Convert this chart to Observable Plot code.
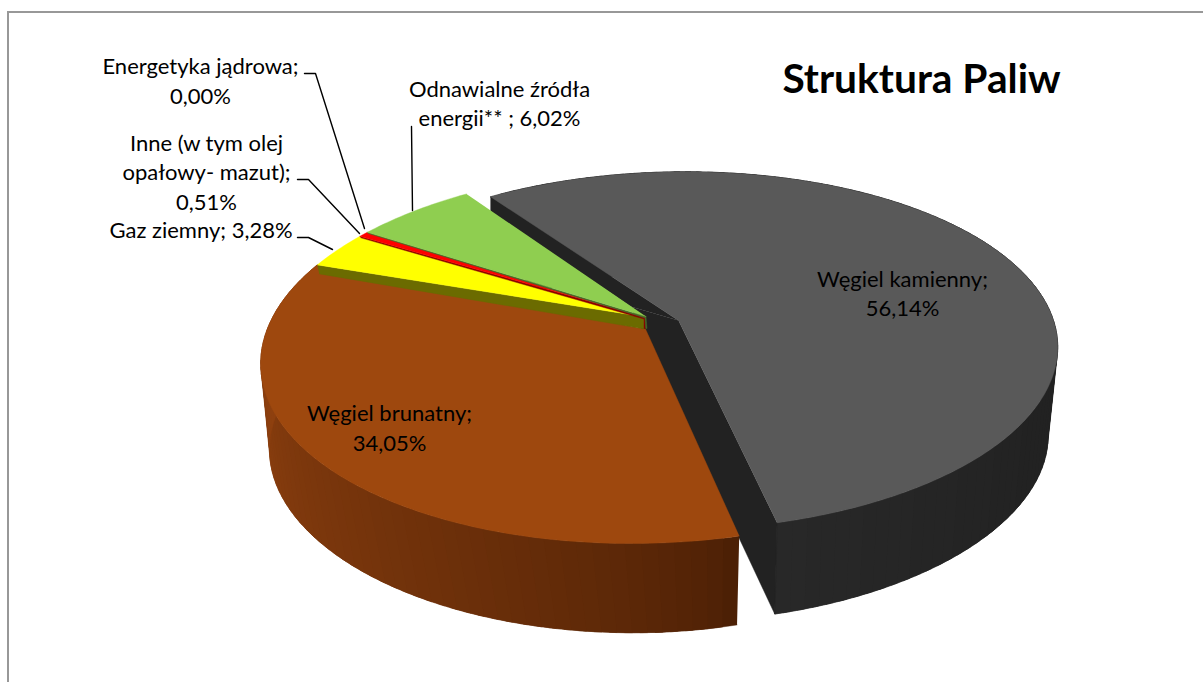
<!DOCTYPE html>
<html><head><meta charset="utf-8">
<script src="https://cdn.jsdelivr.net/npm/d3@7"></script>
<script src="https://cdn.jsdelivr.net/npm/@observablehq/plot@0.6"></script>
<style>html,body{margin:0;padding:0;background:#fff}svg{display:block}</style>
</head><body><div id="chart"></div>
<script>
const categories = ["Węgiel kamienny","Węgiel brunatny","Gaz ziemny","Inne (w tym olej opałowy- mazut)","Energetyka jądrowa","Odnawialne źródła energii**"];
const values = [56.14,34.05,3.28,0.51,0.00,6.02];
const topColors = ["#595959","#9e480e","#ffff00","#ff0000","#ff0000","#8fce50"];
const labelTexts = ["Węgiel kamienny;\n56,14%","Węgiel brunatny;\n34,05%","Gaz ziemny; 3,28%","Inne (w tym olej\nopałowy- mazut);\n0,51%","Energetyka jądrowa;\n0,00%","Odnawialne źródła\nenergii** ; 6,02%"];
const labelX = [902,389,200.5,206,200,499];
const labelY = [291.5,426,228,170.5,79,101.5];
const leaderGroups = [[304,315,364],[297,308,359],[297,308,332],[411,412]];
const leaderYs = [[73,73,228],[179,179,233],[237,237,249],[126,210]];
const titleText = "Struktura Paliw";
const firstAngle = 324;

// projections of the pie's disks onto the page
const topDisk = {cx:645,cy:318,a:378,s:16,b:180,p:0.2,q:-0.012};
const grayTop = {cx:678,cy:320,a:375,s:8,b:174,p:0.17,q:0};
const grayBottom = {cx:694,cy:410,a:350,s:20,b:169,p:0.2,q:0};
const brownBottom = {cx:625,cy:416,a:350,s:-6,b:173,p:0.2,q:0};
const grayBottomApex = [630,306];

const rad = d => d*Math.PI/180;
function proj(deg,m){const t=rad(deg),w=1+m.p*Math.cos(t)+m.q*Math.sin(t);
  return [m.cx+(m.a*Math.sin(t)+m.s*Math.cos(t))/w, m.cy-m.b*Math.cos(t)/w];}
function arc(d0,d1,m){const n=Math.max(1,Math.ceil(Math.abs(d1-d0)));
  return d3.range(n+1).map(i=>proj(d0+(d1-d0)*i/n,m));}

const total = d3.sum(values);
let acc = firstAngle;
const slices = values.map(v=>{const s=acc,e=acc+v/total*360;acc=e;return {s,e};});

const rows=[]; let id=0;
const poly=(pts,fill)=>{id++;pts.forEach(p=>rows.push({x:p[0],y:p[1],id,fill}));};

const [gray,brown,gas,other,,oze]=slices;
// gray: outer wall (facets overlap so no seams show), inner walls, top
const grayWall=d3.interpolateRgb("#222222","#282828");
for(let d=gray.s;d<gray.e;d+=2){const e=Math.min(d+5,gray.e);
  poly([...arc(d,e,grayTop),...arc(e,d,grayBottom)],
       d>gray.e-50?grayWall((d-gray.e+50)/50):"#222222");}
const gApex=[grayTop.cx,grayTop.cy];
poly([proj(gray.s,grayTop),gApex,grayBottomApex,[proj(gray.s,grayTop)[0],proj(gray.s,grayTop)[1]+15]],"#222222");
poly([gApex,proj(gray.e,grayTop),proj(gray.e,grayBottom),grayBottomApex],"#222222");
poly([gApex,...arc(gray.s,gray.e,grayTop)],topColors[0]);
// brown: wall then top, painted from the front edge round to the left
const brownWall=d3.interpolateRgb("#4c2005","#8e400f");
for(let d=brown.s;d<brown.e;d+=2){const e=Math.min(d+5,brown.e);
  poly([...arc(d,e,topDisk),...arc(e,d,brownBottom)],
       brownWall(Math.pow(Math.min(1,(d-brown.s)/100),0.7)));}
const apexBottom=[645,328.5];
poly([apexBottom,...arc(brown.s,brown.e,topDisk)],topColors[1]);
// yellow with olive wall
const apex=[644.5,316.5];
const ys=proj(gas.s,topDisk);
poly([ys,apex,[644,328.5],[ys[0]+2,ys[1]+9]],"#6b6b00");
poly([apex,...arc(gas.s,gas.e,topDisk)],topColors[2]);
// red with dark red wall
const rs=proj(other.s,topDisk);
poly([rs,apex,[645,328],[643.5,328],[643.5,318.5],[rs[0]+1,rs[1]+1.5]],"#8a0000");
poly([apex,...arc(other.s,other.e,topDisk)],topColors[3]);
// green with dark green wall
const os=proj(oze.s,topDisk);
poly([os,[645.5,316],[646.5,328],[645.2,328],[644.5,317.5],[os[0]+1,os[1]+1.2]],"#476a2a");
poly([[645.5,316],...arc(oze.s,oze.e,topDisk)],topColors[5]);

const leaderRows=leaderGroups.flatMap((xs,g)=>xs.map((x,i)=>({x,y:leaderYs[g][i],g})));
const labels=labelTexts.map((text,i)=>({text,x:labelX[i],y:labelY[i],cat:categories[i]}));

const plot=Plot.plot({
  width:1203,height:682,margin:0,
  x:{domain:[0,1203],range:[0,1203],axis:null},
  y:{domain:[0,682],range:[0,682],axis:null},
  color:{type:"identity"},
  marks:[
    Plot.ruleX([7.5],{y1:11,y2:682,stroke:"#989898",strokeWidth:2}),
    Plot.ruleY([11.5],{x1:7,x2:1203,stroke:"#989898",strokeWidth:2}),
    Plot.line(rows,{x:"x",y:"y",z:"id",fill:"fill",stroke:"fill",strokeWidth:0.4,curve:"linear"}),
    Plot.line(leaderRows,{x:"x",y:"y",z:"g",stroke:"#000",strokeWidth:1.4,curve:"linear"}),
    Plot.text(labels,{x:"x",y:"y",text:"text",fontFamily:"Lato",fontSize:22,lineHeight:1.34,fill:"#000",textAnchor:"middle",lineAnchor:"middle"}),
    Plot.text([titleText],{x:[921],y:[79],text:d=>d,fontFamily:"Lato",fontWeight:"bold",fontSize:40.7,fill:"#000",textAnchor:"middle",lineAnchor:"middle"})
  ]
});
document.getElementById("chart").appendChild(plot);
</script></body></html>
